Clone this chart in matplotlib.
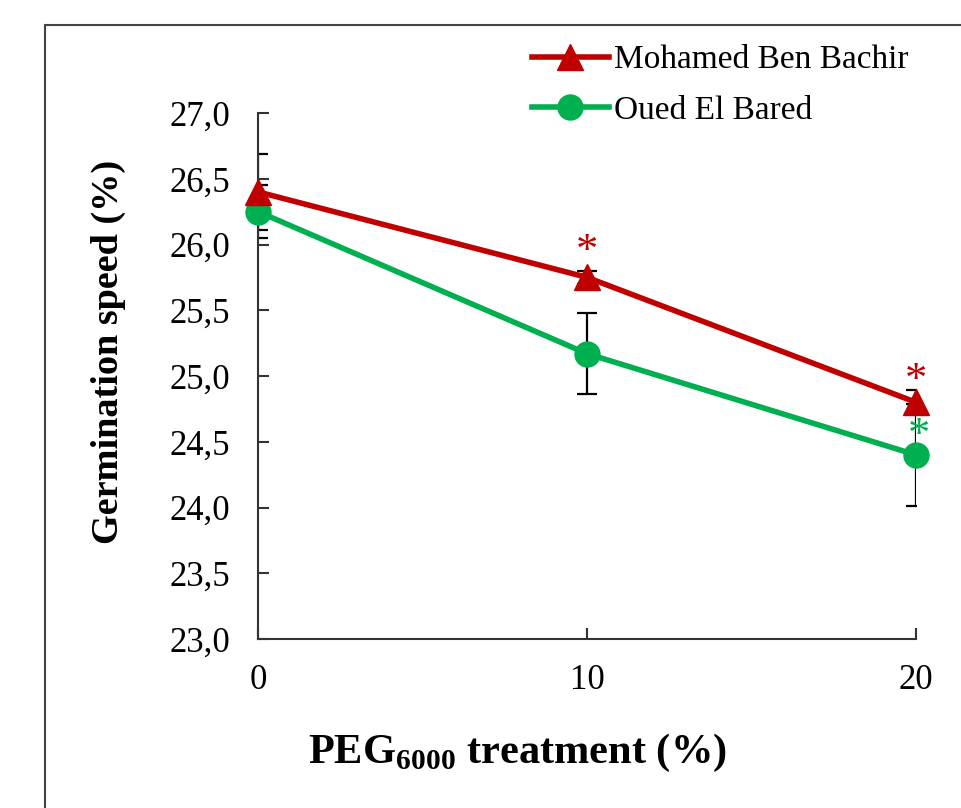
import matplotlib
matplotlib.use("Agg")
import matplotlib.pyplot as plt
from matplotlib.patches import Rectangle

plt.rcParams['font.family'] = ['Liberation Serif', 'DejaVu Serif']
plt.rcParams['mathtext.fontset'] = 'custom'
plt.rcParams['mathtext.rm'] = 'Liberation Serif'
plt.rcParams['mathtext.bf'] = 'Liberation Serif:bold'

# Data
peg = [0, 10, 20]
mbb = [26.40, 25.75, 24.80]
mbb_err = [0.29, 0.05, 0.09]
oeb = [26.25, 25.17, 24.40]
oeb_err = [0.20, 0.31, 0.39]
yticks = [23.0, 23.5, 24.0, 24.5, 25.0, 25.5, 26.0, 26.5, 27.0]
ytick_labels = ["23,0", "23,5", "24,0", "24,5", "25,0", "25,5", "26,0", "26,5", "27,0"]
xticks = [0, 10, 20]
xtick_labels = ["0", "10", "20"]
# significance asterisks: (x, y, series)
stars = [(10, 25.94, 'mbb'), (20, 24.96, 'mbb'), (20.1, 24.54, 'oeb')]

red = '#C00000'
green = '#00B050'

fig = plt.figure(figsize=(9.62, 8.08), dpi=100)
ax = fig.add_axes([258/962, 1-639/808, (916-258)/962, (639-113)/808])

# Border
fig.patches.append(Rectangle((45/962, -0.05), 1.2, 1-25/808+0.05, transform=fig.transFigure,
                             fill=False, edgecolor='#444444', lw=1.5))

ax.errorbar(peg, mbb, yerr=mbb_err, fmt='none', ecolor='black', elinewidth=1.6,
            capsize=7, capthick=1.6, zorder=2)
ax.errorbar(peg, oeb, yerr=oeb_err, fmt='none', ecolor='black', elinewidth=1.6,
            capsize=7, capthick=1.6, zorder=2)
l1, = ax.plot(peg, mbb, color=red, lw=4, marker='^', markersize=19,
              label='Mohamed Ben Bachir', zorder=4, clip_on=False)
l2, = ax.plot(peg, oeb, color=green, lw=4, marker='o', markersize=18,
              label='Oued El Bared', zorder=3, clip_on=False)

for x, y, s in stars:
    ax.text(x, y, '*', color=red if s == 'mbb' else green, fontsize=32,
            ha='center', va='center', zorder=5)

ax.set_xlim(0, 20)
ax.set_ylim(23.0, 27.0)
ax.set_yticks(yticks)
ax.set_yticklabels(ytick_labels)
ax.set_xticks(xticks)
ax.set_xticklabels(xtick_labels)
for s in ['top', 'right']:
    ax.spines[s].set_visible(False)
for s in ['left', 'bottom']:
    ax.spines[s].set_color('#333333')
    ax.spines[s].set_linewidth(1.5)
ax.tick_params(axis='y', direction='in', length=8, width=1.5, labelsize=25, pad=20, color='#333333')
ax.tick_params(axis='x', direction='in', length=8, width=1.5, labelsize=25, pad=18, color='#333333')

ax.set_ylabel('Germination speed (%)', fontsize=27.5, fontweight='bold')
ax.yaxis.set_label_coords(-0.2006, 0.545)
ax.set_xlabel(r'PEG$_{\mathbf{6000}}$ treatment (%)', fontsize=30.5, fontweight='bold')
ax.xaxis.set_label_coords(0.394, -0.176)

fig.legend(handles=[l1, l2], loc='upper left', bbox_to_anchor=(532/962, 1-45/808),
           frameon=False, fontsize=24, handlelength=2.3, handletextpad=0.15,
           borderpad=0, borderaxespad=0, labelspacing=0.6)

fig.savefig('out.png', dpi=100)
